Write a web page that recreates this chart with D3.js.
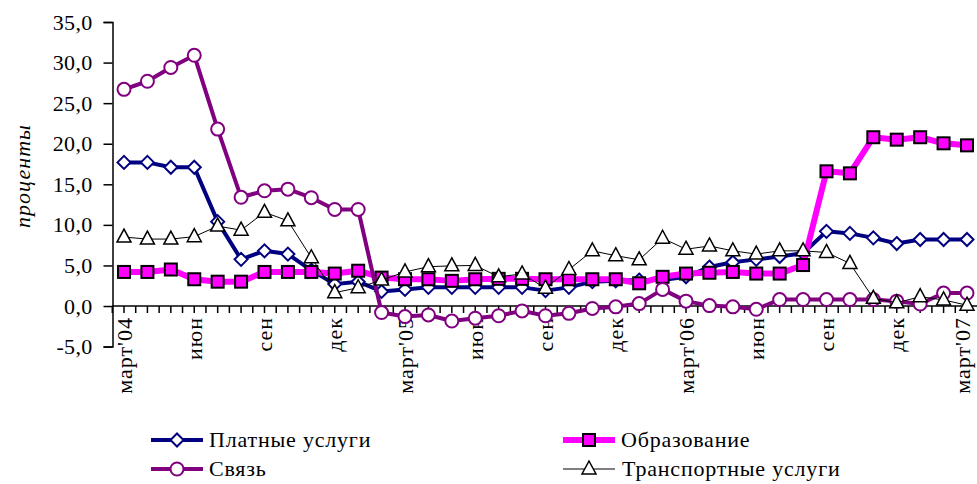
<!DOCTYPE html>
<html><head><meta charset="utf-8">
<script src="https://cdn.jsdelivr.net/npm/d3@7"></script>
<style>
html,body{margin:0;padding:0;background:#fff;}
svg{display:block;}
text{font-family:"Liberation Serif","Times New Roman",serif;fill:#000;}
</style></head>
<body><svg id="c" width="977" height="484"></svg>
<script>
// ---- data ----
const tickLabels = ["март'04","июн","сен","дек","март'05","июн","сен","дек","март'06","июн","сен","дек","март'07"];
const months = d3.range(37); // март'04 .. март'07, monthly
const paidServices = [17.7,17.7,17.1,17.1,10.4,5.75,6.8,6.4,4.4,2.7,3.0,1.8,2.05,2.3,2.3,2.3,2.3,2.3,1.9,2.3,3.0,3.1,3.2,3.2,3.6,4.8,5.4,5.75,6.1,6.5,9.2,8.95,8.4,7.7,8.2,8.2,8.2];
const education = [4.2,4.2,4.5,3.3,3.0,3.0,4.2,4.2,4.2,4.0,4.35,3.5,3.3,3.3,3.1,3.3,3.35,3.35,3.3,3.3,3.3,3.3,2.8,3.6,4.0,4.1,4.2,4.0,4.0,5.05,16.6,16.35,20.8,20.5,20.8,20.05,19.8];
const communication = [26.7,27.7,29.4,30.9,21.8,13.4,14.2,14.4,13.35,11.9,11.9,-0.8,-1.3,-1.1,-1.85,-1.5,-1.2,-0.6,-1.2,-0.9,-0.3,-0.1,0.3,2.05,0.6,0.05,-0.1,-0.4,0.8,0.8,0.8,0.8,0.8,0.6,0.25,1.6,1.6];
const transport = [8.5,8.25,8.25,8.55,9.85,9.35,11.55,10.5,5.95,1.65,2.25,3.2,4.2,4.85,4.95,5.0,3.6,3.95,2.2,4.5,6.8,6.2,5.7,8.35,7.0,7.4,6.8,6.4,6.8,6.8,6.6,5.25,0.95,0.4,1.15,0.75,0.1];
const yTicks = [-5,0,5,10,15,20,25,30,35];
const seriesNames = ["Платные услуги","Образование","Связь","Транспортные услуги"];
const yTitle = "проценты";

const svg = d3.select("#c");
const x = d3.scalePoint().domain(months).range([124, 967]);
const step = x.step();
const y = d3.scaleLinear().domain([-5, 35]).range([346.6, 22]);

// y axis
const yAxis = svg.append("g").attr("transform","translate(112.5,0)")
  .call(d3.axisLeft(y).tickValues(yTicks).tickSize(9).tickPadding(11)
    .tickFormat(d => d.toFixed(1).replace(".", ",")));
yAxis.attr("font-family",null);
yAxis.select(".domain").attr("stroke","#000").attr("stroke-width",1.5);
yAxis.selectAll(".tick line").attr("stroke","#000").attr("stroke-width",1.5);
yAxis.selectAll(".tick text").attr("font-size",22).attr("fill","#000").attr("letter-spacing","0.3px");

// x axis at zero
const x0 = x(0) - step/2;
const halfTicks = d3.range(0, 75).map(i => x0 + i*step/2).filter(v => v <= 977);
const xAxis = svg.append("g").attr("transform",`translate(0,${y(0)})`);
xAxis.append("line").attr("x1",112).attr("x2",977).attr("stroke","#000").attr("stroke-width",1.5);
xAxis.selectAll("line.t").data(halfTicks).join("line").attr("class","t")
  .attr("x1",d=>d).attr("x2",d=>d).attr("y1",0).attr("y2",7).attr("stroke","#000").attr("stroke-width",1.5);
xAxis.selectAll("text").data(tickLabels).join("text")
  .attr("transform",(d,i)=>`translate(${Math.min(x(i*3), 962)},11) rotate(-90)`)
  .attr("text-anchor","end").attr("dy","0.35em").attr("font-size",22).attr("letter-spacing","1px").text(d=>d);

// y title
svg.append("text").attr("transform",`translate(22,176) rotate(-90)`)
  .attr("text-anchor","middle").attr("dy","0.35em").attr("font-size",22).attr("letter-spacing","1px")
  .attr("font-style","italic").text(yTitle);

const line = d3.line().x((d,i)=>x(i)).y(d=>y(d));
const styles = [
  {data: paidServices, color:"#000080", w:4, sym:"diamond"},
  {data: education, color:"#FF00FF", w:6, sym:"square"},
  {data: communication, color:"#800080", w:4, sym:"circle"},
  {data: transport, color:"#000", w:1, sym:"triangle"}
];
function drawMarker(g, sym, color){
  if(sym==="diamond") g.append("path").attr("d","M0,-6.5L6.5,0L0,6.5L-6.5,0Z").attr("fill","#fff").attr("stroke",color).attr("stroke-width",2);
  if(sym==="square") g.append("rect").attr("x",-6).attr("y",-6).attr("width",12).attr("height",12).attr("fill","#FF00FF").attr("stroke","#000").attr("stroke-width",2);
  if(sym==="circle") g.append("circle").attr("r",6.5).attr("fill","#fff").attr("stroke",color).attr("stroke-width",2);
  if(sym==="triangle") g.append("path").attr("d","M0,-8L7,5L-7,5Z").attr("fill","#fff").attr("stroke","#000").attr("stroke-width",1.5);
}
styles.forEach(s=>{
  svg.append("path").datum(s.data).attr("d",line).attr("fill","none").attr("stroke",s.color).attr("stroke-width",s.w).attr("stroke-linejoin","round");
  s.data.forEach((v,i)=>{
    const g = svg.append("g").attr("transform",`translate(${x(i)},${y(v)})`);
    drawMarker(g, s.sym, s.color);
  });
});

// legend
const legendPos = [[151,440],[563,440],[151,469],[563,469]];
styles.forEach((s,k)=>{
  const [lx,ly] = legendPos[k];
  const g = svg.append("g").attr("transform",`translate(${lx},${ly})`);
  g.append("line").attr("x1",0).attr("x2",52).attr("stroke",s.color).attr("stroke-width",s.w);
  const m = g.append("g").attr("transform","translate(26,0)");
  drawMarker(m, s.sym, s.color);
  g.append("text").attr("x",k===3?59:58).attr("dy","0.33em").attr("font-size",22).attr("letter-spacing","0.8px").text(seriesNames[k]);
});
</script></body></html>
